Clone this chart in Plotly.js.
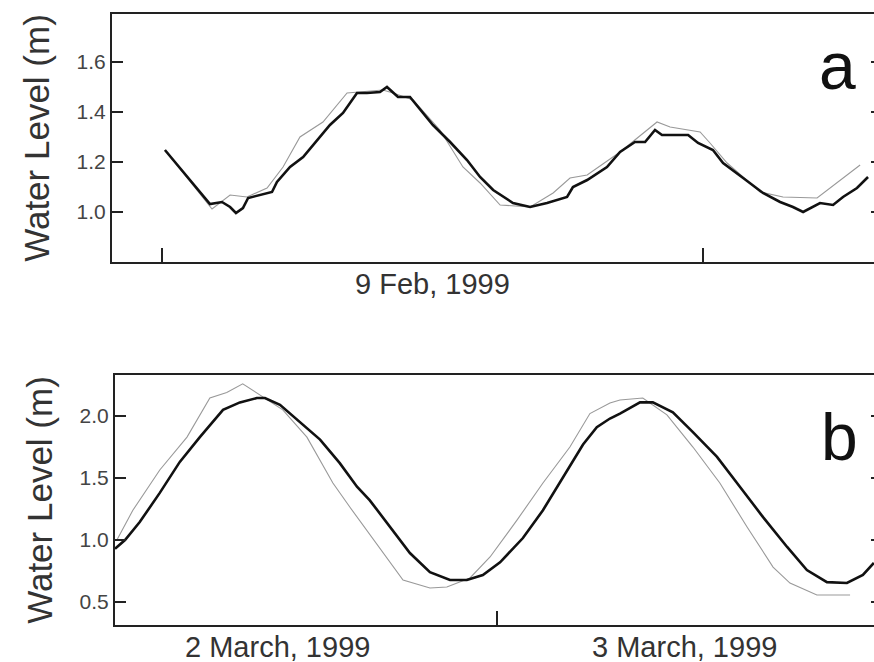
<!DOCTYPE html>
<html>
<head>
<meta charset="utf-8">
<script src="https://cdn.plot.ly/plotly-3.0.1.min.js"></script>
<style>
  html, body { margin: 0; padding: 0; background: #fff; overflow: hidden; }
  #chart { width: 884px; height: 662px; }
</style>
</head>
<body>
<div id="chart"></div>
<script>
// ---- Panel a: 9 Feb 1999 (hours from 00:00, 9 Feb) ----
const aObsHours = [0.13, 2.13, 2.66, 3.02, 3.28, 3.59, 3.82, 4.35, 4.88, 5.10, 5.68, 6.26, 6.88, 7.45, 8.03, 8.65, 9.09, 9.67, 9.98, 10.47, 11.00, 11.58, 12.02, 12.78, 13.53, 14.11, 14.69, 15.57, 16.33, 17.08, 17.97, 18.23, 18.86, 19.74, 20.32, 20.98, 21.43, 21.87, 22.18, 23.34, 23.78, 24.44, 24.89, 25.78, 26.66, 27.42, 27.99, 28.44, 29.19, 29.77, 30.21, 30.83, 31.32];
const aObsLevel = [1.248, 1.032, 1.040, 1.020, 0.996, 1.016, 1.056, 1.068, 1.080, 1.120, 1.180, 1.220, 1.288, 1.348, 1.396, 1.476, 1.476, 1.480, 1.500, 1.460, 1.460, 1.396, 1.348, 1.280, 1.208, 1.140, 1.088, 1.036, 1.020, 1.036, 1.060, 1.100, 1.128, 1.180, 1.240, 1.280, 1.280, 1.328, 1.308, 1.308, 1.276, 1.248, 1.196, 1.136, 1.076, 1.040, 1.020, 1.000, 1.036, 1.028, 1.060, 1.096, 1.140];
const aModHours = [0.13, 2.22, 3.02, 3.77, 4.66, 5.37, 6.12, 7.14, 8.21, 8.78, 9.80, 10.25, 11.14, 12.33, 13.35, 14.11, 15.00, 16.33, 17.35, 18.10, 18.86, 20.32, 21.07, 21.96, 22.54, 23.87, 24.31, 25.07, 26.53, 27.55, 29.06, 29.95, 30.97];
const aModLevel = [1.248, 1.012, 1.068, 1.060, 1.096, 1.180, 1.300, 1.360, 1.476, 1.480, 1.488, 1.476, 1.448, 1.328, 1.180, 1.116, 1.028, 1.020, 1.076, 1.136, 1.148, 1.240, 1.296, 1.360, 1.340, 1.320, 1.276, 1.196, 1.080, 1.060, 1.056, 1.116, 1.188];
const aTicks = [1.0, 1.2, 1.4, 1.6];
const aDayTicks = [0, 24];
const aDateLabel = "9 Feb, 1999";

// ---- Panel b: 2-3 March 1999 (hours from 00:00, 3 March) ----
const bObsHours = [-12.20, -11.88, -11.41, -10.77, -10.13, -9.49, -8.75, -8.21, -7.67, -7.41, -6.93, -6.29, -5.65, -5.02, -4.70, -4.47, -4.06, -3.42, -2.78, -2.14, -1.50, -0.96, -0.45, 0.10, 0.83, 1.47, 2.11, 2.75, 3.19, 3.61, 3.93, 4.57, 4.98, 5.62, 6.26, 7.03, 7.76, 8.50, 9.27, 9.90, 10.54, 11.18, 11.69, 12.04];
const bObsLevel = [0.930, 1.000, 1.145, 1.380, 1.630, 1.830, 2.050, 2.110, 2.145, 2.145, 2.090, 1.950, 1.810, 1.620, 1.510, 1.430, 1.320, 1.105, 0.895, 0.740, 0.677, 0.677, 0.718, 0.820, 1.016, 1.240, 1.510, 1.770, 1.910, 1.980, 2.020, 2.110, 2.110, 2.030, 1.870, 1.670, 1.430, 1.185, 0.944, 0.758, 0.660, 0.653, 0.718, 0.815];
const bModHours = [-12.14, -11.63, -10.77, -9.90, -9.17, -8.63, -8.12, -7.57, -6.84, -6.07, -5.24, -4.70, -4.47, -3.64, -3.00, -2.14, -1.60, -0.86, -0.22, 0.64, 1.47, 2.33, 2.97, 3.61, 3.93, 4.66, 5.43, 6.26, 7.12, 7.99, 8.82, 9.36, 10.22, 11.28];
const bModLevel = [1.000, 1.240, 1.565, 1.830, 2.145, 2.190, 2.260, 2.170, 2.050, 1.830, 1.460, 1.266, 1.185, 0.895, 0.677, 0.613, 0.621, 0.694, 0.863, 1.160, 1.460, 1.750, 2.020, 2.105, 2.130, 2.145, 2.010, 1.750, 1.460, 1.105, 0.782, 0.653, 0.556, 0.556];
const bTicks = [0.5, 1.0, 1.5, 2.0];
const bDayTicks = [0];
const bDateLabels = ["2 March, 1999", "3 March, 1999"];
const bDateLabelHours = [-7.0, 6.0];

const W = 884, H = 662;
const px = v => v / W;
const py = v => 1 - v / H;

const thick = { color: '#111', width: 2.6 };
const thin = { color: '#999', width: 1.1 };

const traces = [
  { x: aModHours, y: aModLevel, xaxis: 'x', yaxis: 'y', mode: 'lines', line: thin, name: 'model a' },
  { x: aObsHours, y: aObsLevel, xaxis: 'x', yaxis: 'y', mode: 'lines', line: thick, name: 'observed a' },
  { x: bModHours, y: bModLevel, xaxis: 'x2', yaxis: 'y2', mode: 'lines', line: thin, name: 'model b' },
  { x: bObsHours, y: bObsLevel, xaxis: 'x2', yaxis: 'y2', mode: 'lines', line: thick, name: 'observed b' }
];

const FAM = 'Arial, Liberation Sans, sans-serif';
const frame = { showline: true, linecolor: '#222', linewidth: 2, showgrid: false, zeroline: false };
const tickFont = { family: FAM, size: 21, color: '#444' };
const titleFont = { family: FAM, size: 35, color: '#333' };
const dateFont = { family: FAM, size: 29, color: '#333' };

const layout = {
  width: W, height: H,
  margin: { l: 0, r: 0, t: 0, b: 0 },
  paper_bgcolor: '#fff', plot_bgcolor: '#fff',
  showlegend: false,
  xaxis: Object.assign({}, frame, {
    domain: [px(112), px(882)], range: [-2.218, 31.94], anchor: 'y',
    tickmode: 'array', tickvals: aDayTicks, ticktext: aDayTicks.map(() => ''),
    ticks: 'inside', ticklen: 14, tickwidth: 1.5, tickcolor: '#222', mirror: true
  }),
  yaxis: Object.assign({}, frame, {
    domain: [py(262), py(14)], range: [0.8, 1.792], anchor: 'x',
    tickmode: 'array', tickvals: aTicks, tickformat: '.1f',
    ticks: 'inside', ticklen: 11, tickwidth: 1.5, tickcolor: '#222', mirror: 'ticks',
    tickfont: tickFont,
    title: { text: 'Water Level (m)', font: titleFont, standoff: 16 }
  }),
  xaxis2: Object.assign({}, frame, {
    domain: [px(115), px(882)], range: [-12.20, 12.30], anchor: 'y2',
    tickmode: 'array', tickvals: bDayTicks, ticktext: bDayTicks.map(() => ''),
    ticks: 'inside', ticklen: 14, tickwidth: 1.5, tickcolor: '#222', mirror: true
  }),
  yaxis2: Object.assign({}, frame, {
    domain: [py(625), py(375)], range: [0.3145, 2.331], anchor: 'x2',
    tickmode: 'array', tickvals: bTicks, tickformat: '.1f',
    ticks: 'inside', ticklen: 11, tickwidth: 1.5, tickcolor: '#222', mirror: 'ticks',
    tickfont: tickFont,
    title: { text: 'Water Level (m)', font: titleFont, standoff: 16 }
  }),
  annotations: [
    { text: aDateLabel, xref: 'x', x: 12, yref: 'paper', y: py(284), yanchor: 'middle', xanchor: 'center',
      showarrow: false, font: dateFont },
    { text: bDateLabels[0], xref: 'x2', x: bDateLabelHours[0], yref: 'paper', y: py(647), yanchor: 'middle', xanchor: 'center',
      showarrow: false, font: dateFont },
    { text: bDateLabels[1], xref: 'x2', x: bDateLabelHours[1], yref: 'paper', y: py(647), yanchor: 'middle', xanchor: 'center',
      showarrow: false, font: dateFont },
    { text: 'a', xref: 'paper', x: px(837), yref: 'paper', y: py(66), yanchor: 'middle', xanchor: 'center',
      showarrow: false, font: { family: FAM, size: 66, color: '#111' } },
    { text: 'b', xref: 'paper', x: px(839), yref: 'paper', y: py(437), yanchor: 'middle', xanchor: 'center',
      showarrow: false, font: { family: FAM, size: 66, color: '#111' } }
  ]
};

Plotly.newPlot('chart', traces, layout, { displayModeBar: false, staticPlot: true });
</script>
</body>
</html>
